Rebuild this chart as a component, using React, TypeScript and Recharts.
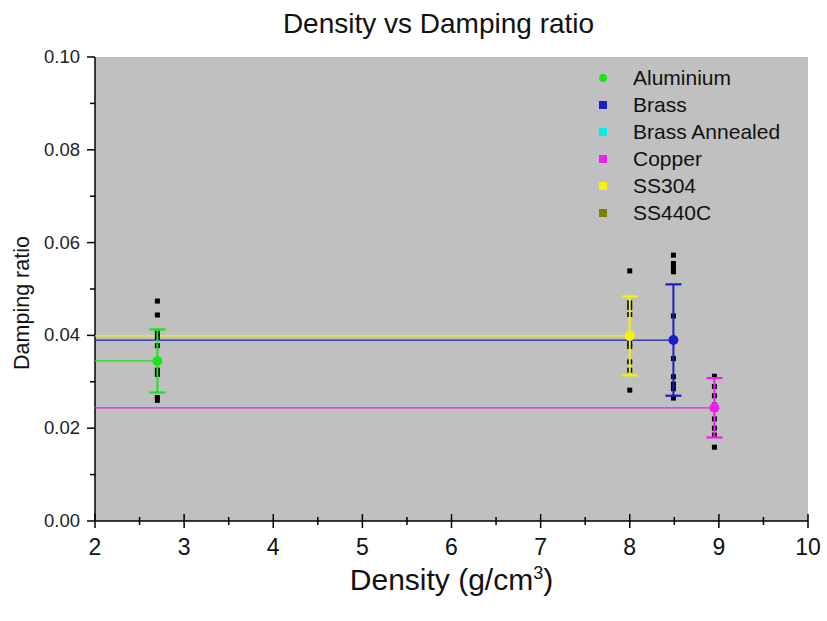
import React from "react";
import { ScatterChart, Scatter, XAxis, YAxis, CartesianGrid } from "recharts";

// legend entries (Brass Annealed and SS440C have nothing visible in the plot)
const MATERIALS = ["Aluminium", "Brass", "Brass Annealed", "Copper", "SS304", "SS440C"];
const COLORS = ["#19e619", "#1c1cc8", "#00eeee", "#f01ef0", "#f5f500", "#808000"];

// plotted groups
const GROUPS = ["Aluminium", "SS304", "Brass", "Copper"];
const DENSITY = [2.7, 8.0, 8.49, 8.95];
const MEAN = [0.0345, 0.0399, 0.039, 0.0244];
const ERR = [0.0068, 0.0085, 0.012, 0.0064];

// individual measurements (black squares)
const RAW_AL = [0.0474, 0.0444, 0.0405, 0.0396, 0.0378, 0.0348, 0.0325, 0.0316, 0.0266, 0.026];
const RAW_SS304 = [0.0539, 0.047, 0.046, 0.0445, 0.0383, 0.0376, 0.0343, 0.0325, 0.0282];
const RAW_BRASS = [0.0573, 0.0555, 0.0545, 0.0537, 0.0442, 0.035, 0.0311, 0.0295, 0.0285, 0.0265];
const RAW_CU = [0.0312, 0.029, 0.027, 0.025, 0.022, 0.02, 0.0185, 0.0159];
const RAW = [RAW_AL, RAW_SS304, RAW_BRASS, RAW_CU];

const X_MAJOR = [2, 3, 4, 5, 6, 7, 8, 9, 10];
const X_MINOR = [2.5, 3.5, 4.5, 5.5, 6.5, 7.5, 8.5, 9.5];
const Y_MAJOR = [0, 0.02, 0.04, 0.06, 0.08, 0.1];
const Y_MINOR = [0.01, 0.03, 0.05, 0.07, 0.09];

const FONT = "Arial, 'Liberation Sans', sans-serif";
const colorOf = (name: string) => COLORS[MATERIALS.indexOf(name)];

const XTick = (props: any) => {
  const { x, y, payload } = props;
  const major = X_MAJOR.includes(payload.value);
  const len = major ? 7 : 4;
  return (
    <g>
      <line x1={x} x2={x} y1={y - len} y2={y + len} stroke="#000" strokeWidth={1.5} />
      {major && (
        <text x={x} y={y + 34} textAnchor="middle" fontSize={23} fontFamily={FONT} fill="#111">
          {payload.value}
        </text>
      )}
    </g>
  );
};

const YTick = (props: any) => {
  const { x, y, payload } = props;
  const major = Y_MAJOR.some((v) => Math.abs(v - payload.value) < 1e-9);
  const len = major ? 8 : 5;
  return (
    <g>
      <line x1={x - len} x2={x} y1={y} y2={y} stroke="#000" strokeWidth={1.5} />
      {major && (
        <text x={x - 15} y={y + 6} textAnchor="end" fontSize={18.5} fontFamily={FONT} fill="#222">
          {payload.value.toFixed(2)}
        </text>
      )}
    </g>
  );
};

const XLabel = (props: any) => {
  const vb = props.viewBox;
  return (
    <text x={vb.x + vb.width / 2} y={vb.y + 69} textAnchor="middle" fontSize={30} fontFamily={FONT} fill="#111">
      Density (g/cm<tspan dy={-11} fontSize={18}>3</tspan><tspan dy={11}>)</tspan>
    </text>
  );
};

const YLabel = (props: any) => {
  const vb = props.viewBox;
  const cx = vb.x + 22;
  const cy = vb.y + vb.height / 2 + 14;
  return (
    <text x={cx} y={cy} transform={`rotate(-90 ${cx} ${cy})`} textAnchor="middle" dominantBaseline="central"
      fontSize={21.5} fontFamily={FONT} fill="#111">
      Damping ratio
    </text>
  );
};

const Square = (props: any) => (
  <rect x={props.cx - 2.5} y={props.cy - 2.5} width={5} height={5} fill="#000" />
);
const Dot = (color: string) => (props: any) => (
  <circle cx={props.cx} cy={props.cy} r={5} fill={color} />
);
const Cap = (color: string) => (props: any) => (
  <line x1={props.cx - 8} x2={props.cx + 8} y1={props.cy} y2={props.cy} stroke={color} strokeWidth={2.2} />
);
const Nothing = () => <g />;

export default function App() {
  return (
    <div style={{ position: "absolute", left: 0, top: 0, width: 827, height: 621, background: "#fff", fontFamily: FONT }}>
      <div style={{ position: "absolute", left: 0, width: 877, top: 8, textAlign: "center", fontSize: 28, color: "#111" }}>
        Density vs Damping ratio
      </div>
      <ScatterChart width={827} height={621} margin={{ top: 57, right: 19, left: 0, bottom: 0 }}>
        <CartesianGrid horizontal={false} vertical={false} fill="#c0c0c0" stroke="none" />
        <XAxis
          type="number" dataKey="x" domain={[2, 10]} allowDataOverflow height={100}
          ticks={[...X_MAJOR, ...X_MINOR].sort((a, b) => a - b)} interval={0}
          tick={<XTick />} tickLine={false} tickSize={0} tickMargin={0}
          axisLine={{ stroke: "#000", strokeWidth: 1.5 }} label={XLabel}
        />
        <YAxis
          type="number" dataKey="y" domain={[0, 0.1]} allowDataOverflow width={95}
          ticks={[...Y_MAJOR, ...Y_MINOR].sort((a, b) => a - b)} interval={0}
          tick={<YTick />} tickLine={false} tickSize={0} tickMargin={0}
          axisLine={{ stroke: "#000", strokeWidth: 1.5 }} label={YLabel}
        />
        {/* drop lines from the y axis to each mean */}
        {GROUPS.map((g, i) => (
          <Scatter
            key={"drop-" + g}
            data={[{ x: X_MAJOR[0], y: MEAN[i] }, { x: DENSITY[i], y: MEAN[i] }]}
            line={{ stroke: colorOf(g), strokeWidth: 1.3 }}
            shape={Nothing}
            isAnimationActive={false}
          />
        ))}
        {GROUPS.map((g, i) => (
          <Scatter
            key={"raw-" + g}
            data={RAW[i].map((v) => ({ x: DENSITY[i], y: v }))}
            shape={Square}
            isAnimationActive={false}
          />
        ))}
        {/* error bars: mean ± err, drawn over the raw points */}
        {GROUPS.map((g, i) => (
          <Scatter
            key={"err-" + g}
            data={[{ x: DENSITY[i], y: MEAN[i] - ERR[i] }, { x: DENSITY[i], y: MEAN[i] + ERR[i] }]}
            line={{ stroke: colorOf(g), strokeWidth: 2 }}
            shape={Cap(colorOf(g))}
            isAnimationActive={false}
          />
        ))}
        {GROUPS.map((g, i) => (
          <Scatter
            key={"mean-" + g}
            name={g}
            data={[{ x: DENSITY[i], y: MEAN[i] }]}
            fill={colorOf(g)}
            shape={Dot(colorOf(g))}
            isAnimationActive={false}
          />
        ))}
      </ScatterChart>
      <div style={{ position: "absolute", left: 599, top: 64 }}>
        {MATERIALS.map((m, i) => (
          <div key={m} style={{ display: "flex", alignItems: "center", height: 27 }}>
            <span
              style={{
                display: "inline-block", width: 8, height: 8, marginRight: 26,
                background: COLORS[i], borderRadius: i === 0 ? "50%" : 0,
              }}
            />
            <span style={{ fontSize: 21, color: "#111" }}>{m}</span>
          </div>
        ))}
      </div>
    </div>
  );
}
